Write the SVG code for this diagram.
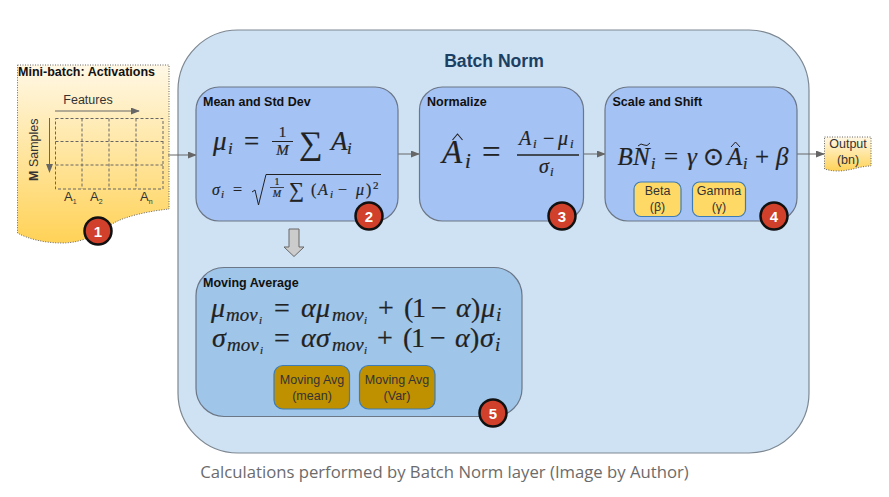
<svg xmlns="http://www.w3.org/2000/svg" width="889" height="497" viewBox="0 0 889 497">
<defs>
<linearGradient id="gold" x1="0" y1="0" x2="0" y2="1"><stop offset="0" stop-color="#fff8e6"/><stop offset="1" stop-color="#ffd257"/></linearGradient>
<marker id="arr" viewBox="0 0 10 10" refX="9" refY="5" markerWidth="9" markerHeight="7" markerUnits="userSpaceOnUse" orient="auto" preserveAspectRatio="none"><path d="M0 0L10 5L0 10Z" fill="#666"/></marker>
</defs>
<style>
text{font-family:"Liberation Sans",Arial,sans-serif}
.t{font-size:12.500px;font-weight:bold;fill:#111}
.l{font-size:12.500px;fill:#333;text-anchor:middle}
.a{font-size:13px;fill:#333}
.m{font-family:"Liberation Serif","Times New Roman",serif;fill:#222;font-style:italic;stroke:#222;stroke-width:.2}
.u{font-style:normal}
.box{fill:#a4c2f4;stroke:#6b7686;stroke-width:1.2}
.y{fill:#ffd966;stroke:#3d7cb5;stroke-width:1.2}
.b{fill:#bf9000;stroke:#3d7cb5;stroke-width:1.2}
.c{fill:#d0402a;stroke:#111;stroke-width:2.5}
.n{font-size:15px;font-weight:bold;fill:#fff;text-anchor:middle}
.g{fill:none;stroke:#666;stroke-width:1;stroke-dasharray:3 2}
.e{fill:none;stroke:#666;stroke-width:1;marker-end:url(#arr)}
</style>
<rect width="889" height="497" fill="#fff"/>
<g id="batch-norm"><rect x="178" y="30" width="631" height="423" rx="60" fill="#cfe2f3" stroke="#7d8791" stroke-width="1.2"/>
<text x="494" y="67" text-anchor="middle" font-size="17.600" font-weight="bold" fill="#1c3f63">Batch Norm</text></g>
<g id="mini-batch">
<path d="M17.500 65H169V209C150 211 125 216 112 224C100 232 85 243 62 243C45 243 28 239 17.500 233Z" fill="url(#gold)" stroke="#666" stroke-width="1" stroke-dasharray="1 1.500"/>
<text x="18" y="76" class="t">Mini-batch: Activations</text>
<text x="88" y="104" class="l">Features</text>
<path class="e" d="M55 111H139"/><path class="e" d="M49.500 118V172"/>
<text transform="translate(38 181) rotate(-90)" font-size="12.500" fill="#333"><tspan font-weight="bold">M</tspan> Samples</text>
<path class="g" d="M55.500 118.500H163V189H55.500ZM82 118.500V189M109 118.500V189M136 118.500V189M55.500 141.500H163M55.500 165H163"/>
<text x="64" y="201" class="a">A<tspan font-size="7" dy="3">1</tspan></text>
<text x="90" y="201" class="a">A<tspan font-size="7" dy="3">2</tspan></text>
<text x="140" y="201" class="a">A<tspan font-size="7" dy="3">n</tspan></text>
</g>
<g id="connectors">
<path class="e" d="M168 155H196"/><path class="e" d="M398 154H419"/><path class="e" d="M584 154H605"/><path class="e" d="M797 154H824"/>
<path d="M289 229H299V247H304L294 256.500L284 247H289Z" fill="#ccc" stroke="#666" stroke-width="1"/>
</g>
<g id="mean-std">
<rect class="box" x="196" y="87" width="202" height="134" rx="23"/>
<text x="203" y="106" class="t">Mean and Std Dev</text>
<text class="m" y="150" font-size="27"><tspan x="213">μ</tspan><tspan x="228" y="154" font-size="17">i</tspan><tspan class="u" x="244" y="150">=</tspan><tspan x="331">A</tspan><tspan x="347" y="154" font-size="17">i</tspan></text>
<text class="m u" x="282.500" y="137" font-size="15" text-anchor="middle">1</text>
<path d="M272 141.500H293" stroke="#222" stroke-width="1"/>
<text class="m" x="282.500" y="155" font-size="15" text-anchor="middle">M</text>
<text class="m u" x="299" y="154" font-size="33">∑</text>
<text class="m" y="195" font-size="16"><tspan x="212">σ</tspan><tspan x="221" y="198" font-size="11">i</tspan><tspan class="u" x="233" y="195">=</tspan></text>
<path d="M252 192L255 190L258.500 205L266 174.500H381" fill="none" stroke="#222" stroke-width="1"/>
<text class="m u" x="277" y="185" font-size="10" text-anchor="middle">1</text>
<path d="M270 187.500H284" stroke="#222" stroke-width=".8"/>
<text class="m" x="277" y="197" font-size="10" text-anchor="middle">M</text>
<text class="m u" x="289" y="197" font-size="21">∑</text>
<text class="m" y="195" font-size="16"><tspan class="u" x="311">(</tspan><tspan x="318">A</tspan><tspan x="330" y="198" font-size="11">i</tspan><tspan class="u" x="338" y="195">−</tspan><tspan x="356">μ</tspan><tspan class="u" x="366">)</tspan><tspan class="u" x="373" y="189" font-size="11">2</tspan></text>
</g>
<g id="normalize">
<rect class="box" x="419.500" y="87" width="164" height="134" rx="23"/>
<text x="427" y="106" class="t">Normalize</text>
<text class="m" y="163" font-size="33"><tspan x="442">A</tspan><tspan x="465" y="168" font-size="21">i</tspan><tspan class="u" x="482" y="163">=</tspan></text>
<path d="M452.500 140L457.500 134L462.500 140" fill="none" stroke="#222" stroke-width="1.100"/>
<path d="M517 155H579" stroke="#222" stroke-width="1.300"/>
<text class="m" y="145" font-size="20"><tspan x="519">A</tspan><tspan x="533" y="148" font-size="13">i</tspan><tspan class="u" x="543" y="145">−</tspan><tspan x="558">μ</tspan><tspan x="570" y="148" font-size="13">i</tspan></text>
<text class="m" y="173" font-size="20"><tspan x="539">σ</tspan><tspan x="550" y="176" font-size="13">i</tspan></text>
</g>
<g id="scale-shift">
<rect class="box" x="605" y="87" width="192" height="134" rx="23"/>
<text x="612.500" y="106" class="t">Scale and Shift</text>
<text class="m" y="165" font-size="25"><tspan x="617.500">B</tspan><tspan x="633">N</tspan><tspan x="651" y="169" font-size="16">i</tspan><tspan class="u" x="664" y="165">=</tspan><tspan x="687">γ</tspan><tspan class="u" x="703">⊙</tspan><tspan x="727">A</tspan><tspan x="743" y="169" font-size="16">i</tspan><tspan class="u" x="755" y="165">+</tspan><tspan x="776">β</tspan></text>
<path d="M638 146Q641 142.500 644 145Q647 147 650 143" fill="none" stroke="#222" stroke-width="1"/>
<path d="M731 147L735.500 142L740 147" fill="none" stroke="#222" stroke-width="1"/>
<rect class="y" x="634" y="182" width="47" height="34.500" rx="7"/>
<text x="657.500" y="195" class="l">Beta</text><text x="657.500" y="211" class="l">(β)</text>
<rect class="y" x="692.500" y="182" width="53" height="34.500" rx="7"/>
<text x="719" y="195" class="l">Gamma</text><text x="719" y="211" class="l">(γ)</text>
</g>
<g id="moving-average">
<rect x="196" y="267.500" width="326" height="149" rx="28" fill="#9fc5e8" stroke="#6b7686" stroke-width="1.200"/>
<text x="203" y="287" class="t">Moving Average</text>
<text class="m" y="317" font-size="28"><tspan x="211">μ</tspan><tspan x="226" y="321" font-size="19">mov</tspan><tspan x="259" y="324" font-size="11">i</tspan><tspan class="u" x="274" y="317">=</tspan><tspan x="301">α</tspan><tspan x="316">μ</tspan><tspan x="332" y="321" font-size="19">mov</tspan><tspan x="364" y="324" font-size="11">i</tspan><tspan class="u" x="378" y="317">+</tspan><tspan class="u" x="404">(</tspan><tspan class="u" x="412">1</tspan><tspan class="u" x="431">−</tspan><tspan x="456">α</tspan><tspan class="u" x="471">)</tspan><tspan x="481">μ</tspan><tspan x="496" y="321" font-size="19">i</tspan></text>
<text class="m" y="347" font-size="28"><tspan x="212">σ</tspan><tspan x="227" y="351" font-size="19">mov</tspan><tspan x="260" y="354" font-size="11">i</tspan><tspan class="u" x="274" y="347">=</tspan><tspan x="301">α</tspan><tspan x="316">σ</tspan><tspan x="332" y="351" font-size="19">mov</tspan><tspan x="364" y="354" font-size="11">i</tspan><tspan class="u" x="377" y="347">+</tspan><tspan class="u" x="403">(</tspan><tspan class="u" x="411">1</tspan><tspan class="u" x="430">−</tspan><tspan x="455">α</tspan><tspan class="u" x="470">)</tspan><tspan x="480">σ</tspan><tspan x="495" y="351" font-size="19">i</tspan></text>
<rect class="b" x="274" y="365.500" width="75.500" height="43.500" rx="9"/>
<text x="312" y="384" class="l">Moving Avg</text><text x="312" y="400" class="l">(mean)</text>
<rect class="b" x="359.500" y="365.500" width="75.500" height="43.500" rx="9"/>
<text x="397" y="384" class="l">Moving Avg</text><text x="397" y="400" class="l">(Var)</text>
</g>
<g id="output">
<path d="M824.500 137H871V166C860 166 850 171 838 171C832 171 828 170 824.500 169Z" fill="url(#gold)" stroke="#666" stroke-width="1" stroke-dasharray="1 1.500"/>
<text x="848" y="148" class="l">Output</text><text x="848" y="164" class="l">(bn)</text>
</g>
<g id="badge-1"><circle class="c" cx="98" cy="231" r="13.500"/><text class="n" x="98" y="236.500">1</text></g>
<g id="badge-2"><circle class="c" cx="369" cy="216" r="13.500"/><text class="n" x="369" y="221.500">2</text></g>
<g id="badge-3"><circle class="c" cx="562" cy="216" r="13.500"/><text class="n" x="562" y="221.500">3</text></g>
<g id="badge-4"><circle class="c" cx="774" cy="216" r="13.500"/><text class="n" x="774" y="221.500">4</text></g>
<g id="badge-5"><circle class="c" cx="493" cy="413" r="13.500"/><text class="n" x="493" y="418.500">5</text></g>
<text x="444.500" y="478" text-anchor="middle" font-size="16.700" fill="#6b6b6b" style="font-family:'Open Sans','Noto Sans',sans-serif">Calculations performed by Batch Norm layer (Image by Author)</text>
</svg>
